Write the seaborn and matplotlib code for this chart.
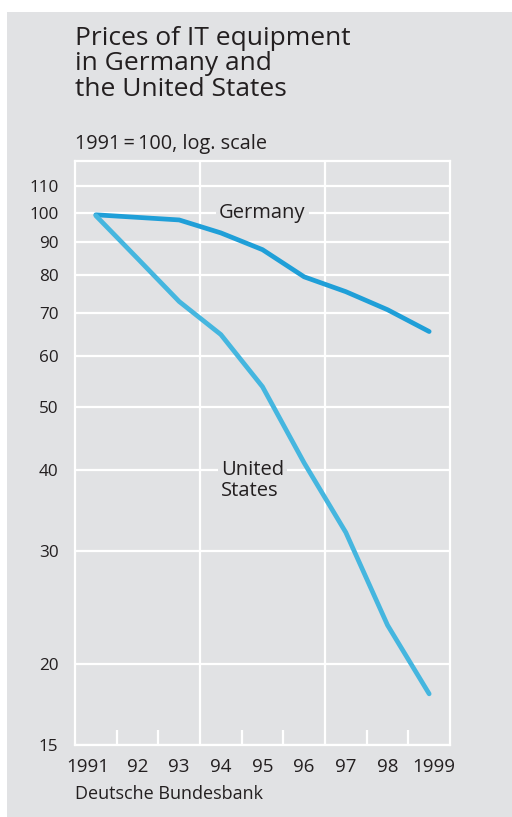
import matplotlib
matplotlib.use("Agg")
import matplotlib.pyplot as plt
import seaborn as sns
import pandas as pd
from matplotlib.patches import Rectangle
from matplotlib.transforms import ScaledTranslation
from matplotlib.ticker import FixedLocator, NullFormatter, NullLocator

years = [1991, 1992, 1993, 1994, 1995, 1996, 1997, 1998, 1999]
germany = [99.3, 98.4, 97.5, 93.1, 87.7, 79.6, 75.5, 70.8, 65.5]
united_states = [99.0, 85.0, 72.9, 64.8, 53.8, 41.0, 32.0, 23.0, 18.0]
x_labels = ["1991", "92", "93", "94", "95", "96", "97", "98", "1999"]
y_ticks = [15, 20, 30, 40, 50, 60, 70, 80, 90, 100, 110]
series_names = ["Germany", "United States"]

BG = "#e1e2e4"
W, H = 512, 817

sns.set_theme(style="white")
plt.rcParams["font.family"] = ["Open Sans", "DejaVu Sans"]
TXT = "#231f20"

df = pd.DataFrame({
    "year": years * 2,
    "value": germany + united_states,
    "series": [series_names[0]] * len(years) + [series_names[1]] * len(years),
})

fig = plt.figure(figsize=(W / 100, H / 100), dpi=100, facecolor=BG)
fig.patches.append(Rectangle((0, 1 - 12 / H), 1, 12 / H, transform=fig.transFigure,
                             facecolor="white", edgecolor="none", zorder=-10))
fig.patches.append(Rectangle((0, 0), 7 / W, 1, transform=fig.transFigure,
                             facecolor="white", edgecolor="none", zorder=-10))

left, right, top, bottom = 75, 450, 161, 745
ax = fig.add_axes([left / W, 1 - bottom / H, (right - left) / W, (bottom - top) / H])
ax.set_facecolor(BG)

sns.lineplot(data=df, x="year", y="value", hue="series",
             palette={"Germany": "#1f9fd8", "United States": "#45b6df"},
             linewidth=3.4, legend=False, ax=ax, zorder=5)

ax.set_yscale("log")
ax.set_ylim(15.0, 120.3)
ax.set_xlim(1990.5, 1999.5)

ax.yaxis.set_major_locator(FixedLocator(y_ticks))
ax.yaxis.set_minor_locator(NullLocator())
ax.set_yticklabels([str(t) for t in y_ticks])
ax.yaxis.set_minor_formatter(NullFormatter())
for t in y_ticks:
    ax.axhline(t, color="white", lw=1.6, zorder=1)
for xv in [1993.5, 1996.5]:
    ax.axvline(xv, color="white", lw=1.6, zorder=1)

ax.set_xticks(years)
ax.set_xticklabels(x_labels)
ax.xaxis.set_minor_locator(FixedLocator([1991.5, 1992.5, 1994.5, 1995.5, 1997.5, 1998.5]))
ax.tick_params(axis="x", which="major", bottom=False, length=0, pad=9, labelsize=13.5,
               labelcolor=TXT)
ax.tick_params(axis="x", which="minor", bottom=True, direction="in", length=11, width=1.6,
               color="white")
ax.tick_params(axis="y", which="both", left=False, length=0, pad=12, labelsize=12.3,
               labelcolor=TXT)

xl = ax.get_xticklabels()
xl[0].set_transform(xl[0].get_transform() + ScaledTranslation(-8 / 100, 0, fig.dpi_scale_trans))
xl[-1].set_transform(xl[-1].get_transform() + ScaledTranslation(5 / 100, 0, fig.dpi_scale_trans))

for s in ax.spines.values():
    s.set_visible(True)
    s.set_color("white")
    s.set_linewidth(1.6)
    s.set_zorder(2)

ax.set_xlabel("")
ax.set_ylabel("")

ax.text(1995.0, 100, "Germany", ha="center", va="center", fontsize=14.5, color=TXT,
        zorder=3, bbox=dict(facecolor=BG, edgecolor="none", pad=2))
ax.text(1994.0, 40, "United", ha="left", va="center", fontsize=14.5, color=TXT,
        zorder=3, bbox=dict(facecolor=BG, edgecolor="none", pad=2))
ax.text(1994.0, 37.1, "States", ha="left", va="center", fontsize=14.5, color=TXT,
        zorder=3)

fig.text(75 / W, 1 - 26 / H, "Prices of IT equipment\nin Germany and\nthe United States",
         ha="left", va="top", fontsize=19, color=TXT, linespacing=1.02)
fig.text(75 / W, 1 - 134 / H, "1991\u2009=\u2009100, log. scale", ha="left", va="top",
         fontsize=14.3, color=TXT)
fig.text(75 / W, 1 - 785 / H, "Deutsche Bundesbank", ha="left", va="top",
         fontsize=13, color=TXT)

fig.savefig("out.png", dpi=100, facecolor=BG)
